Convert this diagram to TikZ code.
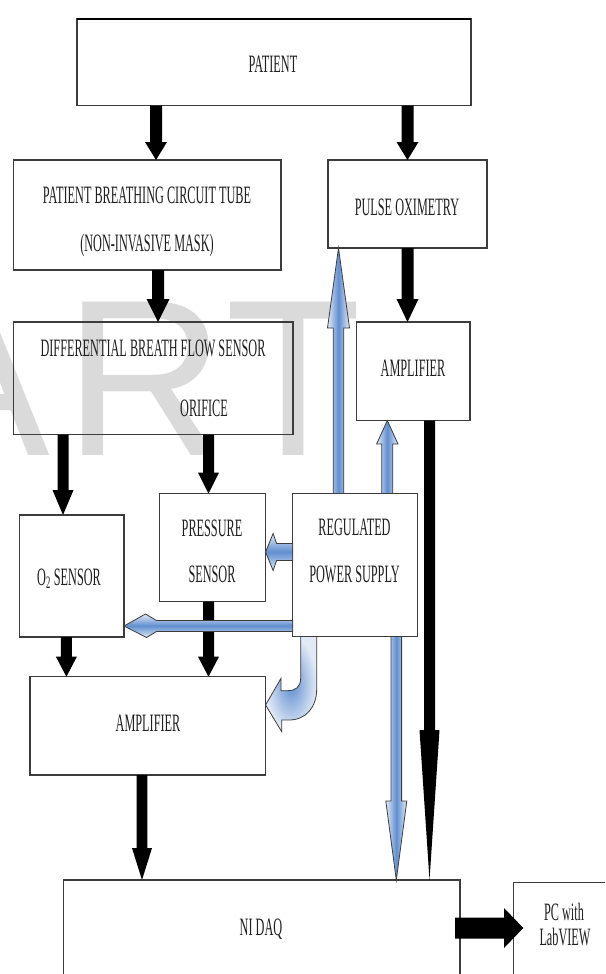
\documentclass[tikz,border=0pt]{standalone}
\usepackage{fontspec}
\setmainfont{Liberation Serif}
\newfontfamily\condfont[FakeStretch=0.49]{Liberation Serif}
\newfontfamily\wmfont{Liberation Sans}
\usetikzlibrary{arrows.meta,calc}
\definecolor{bL}{RGB}{226,234,246}
\definecolor{bM}{RGB}{96,142,208}
\definecolor{edgec}{RGB}{60,60,60}
\definecolor{wmgray}{RGB}{218,218,218}
\newcommand\farrow[6]{%
  \coordinate (fahb) at ($(#3)!#6!(#2)$);
  \path[#1] ($(#2)!#4!90:(#3)$) -- ($(fahb)!#4!90:(#3)$) -- ($(fahb)!#5!90:(#3)$) -- (#3)
    -- ($(fahb)!#5!-90:(#3)$) -- ($(fahb)!#4!-90:(#3)$) -- ($(#2)!#4!-90:(#3)$) -- cycle;}
\tikzset{
  box/.style={draw=edgec, line width=1.2pt, inner sep=0pt, outer sep=0pt},
  lbl/.style={font=\condfont\fontsize{25}{30}\selectfont, inner sep=0pt, text height=16.5pt, text depth=0pt, text=black!88},
  wm/.style={font=\wmfont\fontsize{223}{223}\selectfont, inner sep=0pt, text=wmgray},
  blk/.style={fill=black},
  bluev/.style={draw=edgec, line width=0.8pt, left color=bL, right color=bL, middle color=bM},
  blueh/.style={draw=edgec, line width=0.8pt, top color=bL, bottom color=bL, middle color=bM},
  bluec/.style={draw=edgec, line width=0.8pt, shading=radial, inner color=bM, outer color=bL},
}
\begin{document}
\begin{tikzpicture}[x=1pt,y=-1pt]
\useasboundingbox (0,0) rectangle (605,974);
\clip (0,0) rectangle (605,974);
% watermark
\node[wm, anchor=base west] (wmA) at (-98.7,455) {A};
\node[wm, anchor=base west] (wmR) at (64.4,455) {R};
\node[wm, anchor=base west] (wmT) at (225.4,455) {T};
% boxes
\node[box, minimum width=394pt, minimum height=86.5pt] (pa) at (274,62.25) {};
\node[box, minimum width=267.5pt, minimum height=110pt] (tube) at (147.25,215) {};
\node[box, minimum width=159pt, minimum height=88pt] (po) at (407.5,204) {};
\node[box, minimum width=279.5pt, minimum height=112.5pt] (diff) at (153.25,378.25) {};
\node[box, minimum width=113.5pt, minimum height=98.5pt] (amp1) at (413.25,371.25) {};
\node[box, minimum width=104.5pt, minimum height=122pt] (o2) at (71.75,576) {};
\node[box, minimum width=106.1pt, minimum height=108.2pt] (pr) at (212.55,547.6) {};
\node[box, minimum width=124.8pt, minimum height=143pt] (ps) at (355.1,565) {};
\node[box, minimum width=235.6pt, minimum height=98.3pt] (amp2) at (147.8,725.85) {};
\node[box, minimum width=396.3pt, minimum height=120pt] (daq) at (261.85,940) {};
\node[box, minimum width=140pt, minimum height=120pt] (pc) at (583.3,942.7) {};
\draw[black, line width=2pt] (pa.north west) -- (pa.north east);
% labels
\node[lbl] (tpa) at (273,64) {PATIENT};
\node[lbl] (ttube1) at (147,195) {PATIENT BREATHING CIRCUIT TUBE};
\node[lbl] (ttube2) at (147,243.5) {(NON-INVASIVE MASK)};
\node[lbl] (tpo) at (407,207) {PULSE OXIMETRY};
\node[lbl] (tdiff1) at (153,348) {DIFFERENTIAL BREATH FLOW SENSOR};
\node[lbl] (tdiff2) at (204,408.5) {ORIFICE};
\node[lbl] (tamp1) at (413,368) {AMPLIFIER};
\node[lbl] (to2) at (69,577) {O\textsubscript{2} SENSOR};
\node[lbl] (tpr1) at (212,528) {PRESSURE};
\node[lbl] (tpr2) at (212,574) {SENSOR};
\node[lbl] (tps1) at (354.5,527.5) {REGULATED};
\node[lbl] (tps2) at (354.5,574) {POWER SUPPLY};
\node[lbl] (tamp2) at (148,723.5) {AMPLIFIER};
\node[lbl] (tdaq) at (261,927) {NI DAQ};
\node[lbl] (tpc1) at (564,912) {PC with};
\node[lbl] (tpc2) at (565,937) {LabVIEW};
% helper coordinates
\coordinate (X156) at (156,0);
\coordinate (X158) at (158,0);
\coordinate (X63) at (63,0);
\coordinate (X208) at (208.5,0);
\coordinate (X66) at (66.4,0);
\coordinate (X142) at (142,0);
\coordinate (X429) at (429.5,0);
\coordinate (X338) at (338.5,0);
\coordinate (X387) at (387.3,0);
\coordinate (X396) at (396.3,0);
\coordinate (Y552) at (0,552);
\coordinate (Y626) at (0,626);
\coordinate (pcs) at (455,928);
\coordinate (pct) at (523.3,928);
% black arrows
\farrow{blk}{pa.south -| X156}{tube.north -| X156}{6pt}{11pt}{18pt}
\farrow{blk}{pa.south -| po.north}{po.north}{6pt}{11pt}{18pt}
\farrow{blk}{tube.south -| X158}{diff.north -| X158}{6pt}{11.5pt}{23pt}
\farrow{blk}{po.south}{po.south |- amp1.north}{6pt}{11pt}{23pt}
\farrow{blk}{diff.south -| X63}{o2.north -| X63}{5.5pt}{10.5pt}{25pt}
\farrow{blk}{diff.south -| X208}{pr.north -| X208}{5.5pt}{10.5pt}{21pt}
\farrow{blk}{o2.south -| X66}{amp2.north -| X66}{5.5pt}{10.5pt}{20pt}
\farrow{blk}{pr.south -| X208}{amp2.north -| X208}{5.5pt}{10.5pt}{20pt}
\farrow{blk}{amp1.south -| X429}{daq.north -| X429}{5.5pt}{10pt}{150pt}
\farrow{blk}{amp2.south -| X142}{daq.north -| X142}{5.3pt}{10pt}{32pt}
\farrow{blk}{pcs}{pct}{10.5pt}{20pt}{19.3pt}
% blue arrows
\farrow{bluev}{ps.north -| X338}{po.south -| X338}{5.3pt}{11pt}{80pt}
\farrow{bluev}{ps.north -| X387}{amp1.south -| X387}{5.5pt}{10.7pt}{23.5pt}
\farrow{bluev}{ps.south -| X396}{daq.north -| X396}{5.3pt}{10.5pt}{79pt}
\coordinate (h1t) at (pr.east |- Y552);
\path[blueh] ($(ps.west |- Y552)+(0,-8.5)$) -- ($(h1t)+(11,-8.5)$) -- ($(h1t)+(7.5,-18.5)$) -- (h1t)
  -- ($(h1t)+(7.5,18.5)$) -- ($(h1t)+(11,8.5)$) -- ($(ps.west |- Y552)+(0,8.5)$) -- cycle;
\coordinate (h2t) at (o2.east |- Y626);
\path[blueh] ($(ps.west |- Y626)+(0,-5.5)$) -- ($(h2t)+(32.5,-5.5)$) -- ($(h2t)+(21.5,-12)$) -- (h2t)
  -- ($(h2t)+(22.5,11.5)$) -- ($(h2t)+(32.5,5.5)$) -- ($(ps.west |- Y626)+(0,5.5)$) -- cycle;
% curved arrow from power supply to amplifier
\coordinate (cvA) at (ps.south -| 300.7,0);
\path[bluec] (cvA) -- (300.7,678)
  .. controls (300.7,687) and (296,690.7) .. (287,690.7)
  -- (281,690.7) -- (281,678.3) -- (amp2.east |- 0,705) -- (281.7,731.7) -- (281.7,720) -- (289,720)
  .. controls (306,720) and (316.7,707) .. (316.7,689)
  -- (ps.south -| 316.7,0) -- cycle;
\end{tikzpicture}
\end{document}
